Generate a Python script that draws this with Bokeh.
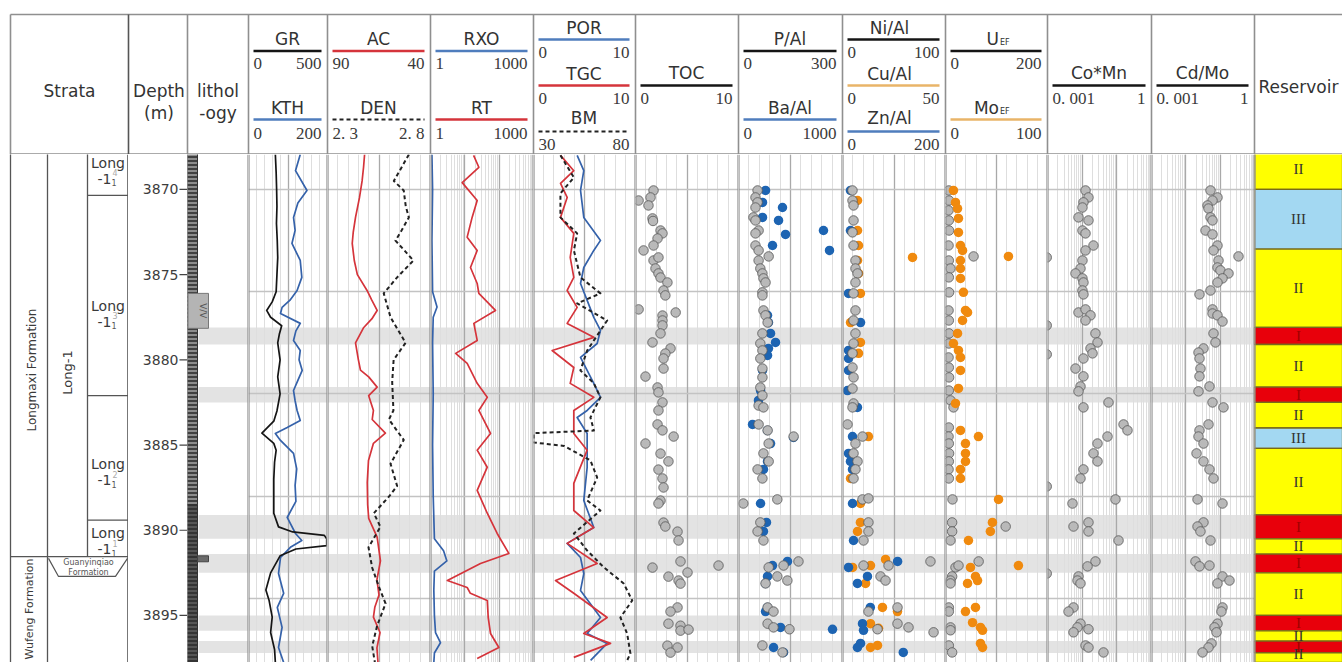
import numpy as np
from bokeh.plotting import figure
from bokeh.models import Range1d, FixedTicker, LogTicker, Span
from bokeh.layouts import row, column
from bokeh.embed import file_html
from bokeh.resources import INLINE
from bokeh.core.properties import value

# ---------------------------------------------------------------- data
DEPTH_TOP, DEPTH_BOT = 3867.95, 3897.76
DEPTH_TICKS = [3870, 3875, 3880, 3885, 3890, 3895]

GR_RANGE, KTH_RANGE = (0, 500), (0, 200)
AC_RANGE, DEN_RANGE = (90, 40), (2.3, 2.8)
RXO_RANGE, RT_RANGE = (1, 1000), (1, 1000)
POR_RANGE, TGC_RANGE, BM_RANGE = (0, 10), (0, 10), (30, 80)
TOC_RANGE = (0, 10)
PAL_RANGE, BAAL_RANGE = (0, 300), (0, 1000)
NIAL_RANGE, CUAL_RANGE, ZNAL_RANGE = (0, 100), (0, 50), (0, 200)
UEF_RANGE, MOEF_RANGE = (0, 200), (0, 100)
COMN_RANGE, CDMO_RANGE = (0.001, 1), (0.001, 1)

GR_TICKS, KTH_TICKS = ["0", "500"], ["0", "200"]
AC_TICKS, DEN_TICKS = ["90", "40"], ["2. 3", "2. 8"]
RXO_TICKS, RT_TICKS = ["1", "1000"], ["1", "1000"]
POR_TICKS, TGC_TICKS, BM_TICKS = ["0", "10"], ["0", "10"], ["30", "80"]
TOC_TICKS = ["0", "10"]
PAL_TICKS, BAAL_TICKS = ["0", "300"], ["0", "1000"]
NIAL_TICKS, CUAL_TICKS, ZNAL_TICKS = ["0", "100"], ["0", "50"], ["0", "200"]
UEF_TICKS, MOEF_TICKS = ["0", "200"], ["0", "100"]
COMN_TICKS, CDMO_TICKS = ["0. 001", "1"], ["0. 001", "1"]

gr_depth = [3867.95, 3869.0, 3870.0, 3871.0, 3872.0, 3873.0, 3874.0, 3875.0, 3876.0, 3876.6, 3877.1, 3877.5, 3878.0, 3878.5, 3879.0, 3880.0, 3881.0, 3882.0, 3883.0, 3883.6, 3884.3, 3884.9, 3885.3, 3886.0, 3887.0, 3888.0, 3889.0, 3889.8, 3890.1, 3890.3, 3890.5, 3890.9, 3891.1, 3891.5, 3892.5, 3893.5, 3894.1, 3895.1, 3896.0, 3897.0, 3897.76]
gr = [170, 175, 178, 180, 177, 182, 185, 180, 175, 150, 115, 140, 210, 195, 185, 200, 185, 200, 180, 160, 85, 160, 175, 165, 160, 160, 160, 190, 280, 480, 495, 495, 300, 200, 140, 110, 130, 150, 140, 165, 170]

kth_depth = [3867.95, 3868.9, 3870.06, 3870.8, 3871.64, 3872.4, 3873.17, 3874.17, 3875.16, 3875.93, 3876.5, 3876.92, 3877.28, 3877.86, 3878.3, 3878.86, 3879.45, 3880.0, 3880.62, 3881.2, 3881.8, 3882.4, 3882.97, 3883.56, 3883.97, 3884.32, 3884.73, 3885.49, 3886.4, 3887.37, 3888.3, 3889.25, 3890.19, 3890.6, 3891.0, 3891.6, 3892.54, 3893.7, 3894.53, 3895.7, 3896.88, 3897.76]
kth = [131, 119, 148, 125, 114, 118, 110, 131, 135, 123, 105, 85, 81, 131, 120, 114, 131, 128, 136, 125, 114, 118, 123, 131, 98, 68, 81, 114, 122, 118, 120, 98, 119, 135, 106, 81, 76, 89, 73, 85, 76, 89]

ac_depth = [3867.95, 3868.7, 3869.5, 3870.5, 3871.64, 3872.5, 3873.17, 3874.17, 3875.0, 3875.93, 3876.5, 3877.1, 3877.6, 3878.1, 3879.0, 3880.0, 3880.6, 3881.0, 3881.6, 3882.1, 3882.97, 3883.5, 3884.3, 3884.9, 3885.9, 3887.2, 3888.5, 3889.3, 3890.4, 3891.8, 3892.9, 3893.8, 3894.5, 3895.1, 3896.0, 3896.9, 3897.76]
ac = [72.0, 72.5, 73.2, 74.5, 76.4, 77.5, 78.0, 77.0, 75.5, 70.8, 68.5, 65.9, 68.5, 72.4, 76.4, 75.0, 74.0, 70.0, 65.9, 70.0, 67.7, 68.3, 61.9, 67.7, 70.1, 70.7, 70.5, 70.0, 65.9, 64.3, 66.0, 65.0, 67.0, 67.7, 64.5, 66.0, 65.5]

den_depth = [3867.95, 3868.7, 3869.5, 3870.06, 3871.0, 3871.64, 3872.4, 3873.0, 3874.17, 3875.16, 3876.1, 3877.5, 3879.0, 3880.0, 3881.3, 3882.97, 3883.5, 3884.7, 3886.1, 3887.4, 3888.0, 3889.0, 3889.8, 3891.0, 3892.2, 3893.3, 3894.3, 3895.6, 3896.8, 3897.76]
den = [2.695, 2.66, 2.622, 2.670, 2.68, 2.695, 2.66, 2.630, 2.717, 2.638, 2.573, 2.606, 2.679, 2.621, 2.614, 2.62, 2.598, 2.670, 2.606, 2.638, 2.60, 2.525, 2.557, 2.499, 2.517, 2.549, 2.582, 2.541, 2.517, 2.53]

rxo_depth = [3867.95, 3870.0, 3873.0, 3876.0, 3876.9, 3877.5, 3879.0, 3882.0, 3885.0, 3888.0, 3890.5, 3891.2, 3891.8, 3892.4, 3893.5, 3895.0, 3896.0, 3896.6, 3897.2, 3897.76]
rxo = [1.1, 1.15, 1.1, 1.15, 1.55, 1.2, 1.15, 1.2, 1.15, 1.2, 1.3, 2.4, 3.0, 1.3, 1.25, 1.3, 1.4, 1.95, 1.3, 1.25]

rt_depth = [3868.0, 3868.7, 3869.6, 3870.65, 3871.64, 3872.8, 3873.58, 3874.58, 3875.52, 3876.1, 3877.1, 3877.86, 3878.86, 3879.62, 3880.21, 3881.38, 3882.2, 3882.97, 3884.32, 3885.3, 3886.3, 3887.66, 3889.0, 3890.19, 3891.36, 3891.95, 3892.95, 3893.36, 3893.7, 3894.12, 3895.12, 3896.06, 3896.88, 3897.52]
rt = [18, 25.6, 8.4, 22.9, 16.3, 11.7, 22.9, 14.6, 22.9, 25.6, 78, 18.3, 22.9, 5.4, 11.7, 22.9, 45, 25.6, 56, 22.9, 45, 22.9, 45, 87.5, 191, 28.6, 3.1, 11.7, 14.5, 45, 48, 56, 98, 22.9]

por_depth = [3868.0, 3868.9, 3870.06, 3871.64, 3872.99, 3873.58, 3874.58, 3875.52, 3876.51, 3877.51, 3878.27, 3879.04, 3879.86, 3880.62, 3881.38, 3882.2, 3882.97, 3883.38, 3884.32, 3886.31, 3888.25, 3889.84, 3890.77, 3891.6, 3892.54, 3893.53, 3895.12, 3896.06, 3896.64, 3897.64]
por = [4.28, 4.93, 4.61, 4.93, 6.57, 5.91, 4.93, 4.61, 5.26, 5.91, 6.57, 6.24, 4.61, 5.26, 5.91, 6.57, 5.26, 4.28, 5.26, 5.26, 4.93, 5.91, 3.30, 4.61, 4.93, 4.61, 6.57, 5.26, 7.22, 5.6]

tgc_depth = [3868.0, 3868.9, 3869.65, 3870.47, 3871.64, 3872.58, 3873.99, 3875.16, 3875.93, 3876.92, 3877.86, 3878.68, 3879.45, 3880.45, 3881.38, 3882.2, 3882.97, 3884.32, 3885.3, 3887.25, 3888.84, 3889.84, 3890.77, 3891.95, 3892.95, 3893.7, 3895.12, 3896.06, 3896.64, 3897.46]
tgc = [2.65, 3.95, 2.65, 3.30, 2.65, 3.95, 3.6, 3.95, 3.3, 4.28, 3.3, 5.91, 1.83, 3.95, 3.6, 5.91, 3.95, 3.95, 5.26, 3.95, 3.95, 5.91, 3.30, 6.24, 2.16, 3.95, 7.22, 4.93, 7.55, 3.95]

bm_depth = [3868.0, 3869.3, 3870.23, 3871.64, 3872.58, 3873.58, 3875.16, 3876.1, 3876.69, 3877.69, 3878.86, 3879.45, 3880.62, 3881.38, 3882.2, 3883.38, 3884.15, 3884.3, 3884.85, 3885.05, 3885.9, 3886.9, 3888.25, 3888.84, 3890.19, 3891.19, 3892.18, 3893.12, 3894.12, 3895.12, 3896.06, 3897.23, 3897.64]
bm = [43.2, 49.8, 43.2, 43.2, 51.4, 49.8, 53.0, 62.8, 51.4, 66.1, 59.6, 56.3, 53.0, 59.6, 62.8, 57.9, 59.6, 30.2, 30.2, 45.0, 57.9, 61.2, 56.3, 62.8, 49.8, 56.3, 64.5, 74.2, 78.4, 72.6, 75.9, 77.5, 75.9]

toc_depth = [3870.06, 3870.65, 3870.47, 3870.94, 3871.7, 3871.85, 3872.41, 3872.58, 3872.88, 3873.29, 3873.58, 3874.17, 3873.99, 3874.64, 3874.93, 3875.17, 3875.46, 3875.93, 3876.22, 3877.04, 3877.4, 3877.22, 3877.69, 3877.98, 3878.45, 3878.98, 3879.33, 3879.63, 3879.92, 3880.51, 3880.98, 3881.62, 3881.91, 3882.5, 3882.97, 3883.79, 3884.14, 3884.5, 3884.91, 3885.5, 3885.96, 3886.44, 3886.96, 3887.49, 3888.26, 3888.43, 3889.55, 3889.78, 3890.08, 3890.6, 3891.83, 3892.19, 3892.07, 3892.48, 3892.72, 3892.95, 3893.13, 3894.53, 3894.77, 3895.48, 3895.6, 3895.89, 3895.83, 3896.77, 3896.88, 3897.18]
toc = [1.75, 0.3, 1.46, 1.26, 1.65, 1.7, 2.43, 2.62, 2.14, 1.75, 0.78, 1.75, 2.23, 1.94, 2.23, 2.43, 3.1, 2.72, 2.9, 0.3, 2.62, 3.9, 2.62, 2.62, 2.43, 1.65, 3.4, 2.9, 2.72, 2.72, 0.97, 2.14, 2.23, 2.62, 2.23, 2.14, 2.62, 3.7, 0.97, 2.43, 3.2, 2.23, 2.62, 2.72, 2.43, 2.23, 2.72, 2.9, 4.08, 4.18, 4.37, 1.65, 8.06, 5.05, 3.2, 4.18, 4.37, 4.08, 3.4, 3.2, 4.37, 4.37, 5.15, 3.1, 4.08, 3.4]

pal_depth = [3870.06, 3870.47, 3870.76, 3871.06, 3871.64, 3871.82, 3872.41, 3872.58, 3873.29, 3873.58, 3873.93, 3874.17, 3874.64, 3874.93, 3875.22, 3875.46, 3876.04, 3876.22, 3877.1, 3877.39, 3877.81, 3878.45, 3879.04, 3879.45, 3879.92, 3880.51, 3881.03, 3881.62, 3882.09, 3882.68, 3882.79, 3883.79, 3884.14, 3884.5, 3884.91, 3885.49, 3885.96, 3886.43, 3886.96, 3888.43, 3888.19, 3889.54, 3890.07, 3890.6, 3892.18, 3892.07, 3891.83, 3892.71, 3893.12, 3892.95, 3894.53, 3894.77, 3895.48, 3895.7, 3895.81, 3896.76, 3897.17]
pal = [55, 49, 55, 49, 43, 49, 58, 49, 49, 58, 87, 58, 63, 69, 72, 78, 69, 69, 72, 78, 84, 69, 63, 69, 63, 69, 69, 63, 69, 58, 72, 58, 84, 159, 87, 72, 87, 55, 69, 14, 112, 63, 55, 72, 87, 130, 173, 112, 78, 141, 84, 101, 84, 101, 147, 69, 127]

baal_depth = [3870.06, 3870.76, 3871.06, 3871.64, 3871.82, 3872.64, 3872.41, 3873.29, 3873.58, 3877.39, 3877.81, 3878.45, 3878.98, 3879.33, 3879.74, 3880.62, 3881.8, 3882.38, 3883.79, 3884.14, 3884.55, 3884.91, 3885.96, 3886.43, 3888.43, 3889.54, 3890.07, 3891.83, 3892.07, 3892.71, 3893.12, 3894.53, 3894.77, 3895.7, 3895.81, 3896.88, 3897.17]
baal = [260, 231, 423, 231, 385, 452, 817, 327, 875, 279, 288, 308, 356, 288, 279, 231, 212, 192, 135, 279, 529, 308, 279, 240, 212, 269, 240, 471, 327, 279, 260, 279, 260, 404, 904, 337, 433]

nial_depth = [3870.06, 3870.65, 3870.94, 3871.82, 3872.52, 3873.29, 3874.17, 3874.64, 3874.93, 3875.46, 3876.1, 3877.1, 3877.69, 3878.45, 3879.04, 3879.62, 3880.45, 3881.03, 3881.68, 3882.56, 3882.79, 3883.79, 3884.5, 3884.91, 3885.49, 3885.96, 3886.43, 3886.96, 3888.19, 3888.13, 3889.54, 3890.07, 3890.6, 3892.07, 3892.07, 3891.83, 3892.71, 3892.95, 3894.53, 3894.77, 3895.48, 3895.7, 3895.81, 3895.99]
nial = [9.7, 9.7, 10.7, 10.7, 9.7, 10.7, 12.6, 12.6, 14.6, 12.6, 10.7, 12.6, 10.7, 12.6, 10.7, 9.7, 9.7, 10.7, 9.7, 10.7, 9.7, 4.9, 19.4, 12.6, 10.7, 14.6, 12.6, 10.7, 19.4, 25.2, 25.2, 25.2, 20.4, 20.4, 44.7, 85.4, 36.9, 41.8, 53.4, 25.2, 53.4, 64.1, 34.0, 88.4]

cual_depth = [3870.65, 3872.41, 3873.29, 3874.17, 3874.93, 3876.1, 3877.81, 3878.98, 3879.62, 3873.99, 3884.5, 3886.96, 3888.43, 3889.54, 3890.07, 3892.18, 3892.07, 3891.71, 3893.12, 3894.53, 3894.77, 3895.48, 3895.75, 3896.88, 3896.76]
cual = [7.3, 7.3, 7.8, 7.3, 7.8, 8.7, 3.9, 8.7, 7.8, 34, 12.6, 3.9, 8.7, 8.7, 7.3, 4.9, 13.6, 20.9, 11.2, 19.4, 26.7, 13.6, 17.5, 13.6, 17.0]

znal_depth = [3870.06, 3872.41, 3876.1, 3877.81, 3879.45, 3879.92, 3880.62, 3881.8, 3882.79, 3884.5, 3885.49, 3885.96, 3886.43, 3888.43, 3890.6, 3892.18, 3891.83, 3892.71, 3893.12, 3894.53, 3895.48, 3895.87, 3896.64, 3896.88, 3897.17]
znal = [15.5, 15.5, 11.7, 35, 11.7, 11.7, 11.7, 9.7, 29, 19.4, 11.7, 15.5, 19.4, 19.4, 21.4, 11.7, 107, 48.5, 29, 54, 38.8, 40.8, 35, 29, 118]

uef_depth = [3870.06, 3870.65, 3871.23, 3871.82, 3872.41, 3873.29, 3874.17, 3874.64, 3875.16, 3876.04, 3877.1, 3877.69, 3878.45, 3879.04, 3879.86, 3880.45, 3881.03, 3881.8, 3882.38, 3873.93, 3882.79, 3883.97, 3884.5, 3884.91, 3885.49, 3885.96, 3886.43, 3886.96, 3888.19, 3889.54, 3890.07, 3890.6, 3892.18, 3892.07, 3892.71, 3892.95, 3893.12, 3894.53, 3894.77, 3895.7, 3895.87, 3896.76, 3897.17, 3889.78, 3891.83]
uef = [6.5, 7.0, 6.0, 6.5, 7.0, 6.0, 6.5, 9.8, 6.5, 7.0, 6.0, 6.5, 7.0, 6.5, 6.0, 6.5, 7.0, 6.5, 9.8, 55, 15.7, 6.5, 6.0, 6.5, 7.0, 6.5, 6.0, 6.5, 13.7, 13, 13, 9.8, 19.6, 25.5, 13, 9.8, 9.8, 6.5, 6.5, 9.8, 9.8, 6.5, 13, 118, 65]

moef_depth = [3870.06, 3870.76, 3871.12, 3871.70, 3872.52, 3873.29, 3873.58, 3874.17, 3874.64, 3875.22, 3876.04, 3877.1, 3877.22, 3877.69, 3878.45, 3879.04, 3879.45, 3879.86, 3880.62, 3881.68, 3882.56, 3873.93, 3884.14, 3884.5, 3884.91, 3885.49, 3885.96, 3886.43, 3886.96, 3888.19, 3889.54, 3890.07, 3890.6, 3892.07, 3892.18, 3892.71, 3892.95, 3893.12, 3894.53, 3894.77, 3895.42, 3895.7, 3895.87, 3896.64, 3896.88]
moef = [7.8, 9.8, 11.8, 12.7, 12.7, 14.7, 16.7, 14.7, 14.7, 14.7, 17.6, 19.6, 21.6, 16.7, 11.8, 7.8, 12.7, 14.7, 14.7, 12.7, 9.8, 61.7, 14.7, 32.3, 19.6, 19.6, 19.6, 14.7, 14.7, 52, 46, 44, 22.5, 71.5, 24.5, 29.4, 31.4, 21.6, 29.4, 19.6, 26.5, 34.3, 36.3, 34.3, 36.3]

comn_depth = [3870.06, 3870.47, 3870.76, 3871.06, 3871.64, 3871.82, 3872.41, 3872.58, 3873.29, 3873.58, 3874.17, 3874.64, 3874.93, 3875.22, 3875.46, 3875.93, 3876.16, 3877.22, 3877.04, 3877.39, 3877.69, 3878.45, 3878.98, 3879.33, 3879.62, 3879.92, 3880.51, 3880.97, 3881.56, 3881.85, 3882.5, 3882.79, 3873.99, 3877.98, 3879.68, 3883.79, 3884.14, 3884.5, 3884.91, 3885.49, 3885.96, 3886.43, 3886.96, 3887.43, 3888.43, 3888.19, 3889.78, 3889.54, 3890.07, 3890.6, 3892.54, 3891.83, 3892.12, 3892.71, 3892.95, 3893.12, 3894.53, 3894.77, 3895.48, 3895.7, 3895.99, 3895.81, 3896.76, 3896.88, 3897.17]
comn = [0.0125, 0.0152, 0.0109, 0.0102, 0.00784, 0.0152, 0.0102, 0.0125, 0.0212, 0.0125, 0.0102, 0.00895, 0.00642, 0.0102, 0.0109, 0.0102, 0.0109, 0.00784, 0.0125, 0.0174, 0.0125, 0.0242, 0.0277, 0.0174, 0.0199, 0.0109, 0.00642, 0.0109, 0.00895, 0.00784, 0.0575, 0.0109, 0.00095, 0.00095, 0.00095, 0.156, 0.203, 0.0538, 0.0277, 0.0212, 0.0277, 0.0109, 0.00895, 0.00095, 0.00526, 0.0914, 0.00562, 0.0152, 0.0152, 0.112, 0.00095, 0.0242, 0.0143, 0.00784, 0.00733, 0.00895, 0.00562, 0.00404, 0.00895, 0.00733, 0.00562, 0.0152, 0.0125, 0.0152, 0.0412]

cdmo_depth = [3870.06, 3870.47, 3870.65, 3870.94, 3871.12, 3871.64, 3871.82, 3872.41, 3872.64, 3873.29, 3873.58, 3873.93, 3874.17, 3874.58, 3874.75, 3874.93, 3875.22, 3875.46, 3875.93, 3876.16, 3877.04, 3877.28, 3877.39, 3877.75, 3878.45, 3878.98, 3879.33, 3879.57, 3879.92, 3880.51, 3880.97, 3881.56, 3881.85, 3882.5, 3882.79, 3883.79, 3884.14, 3884.5, 3884.91, 3885.49, 3885.96, 3886.43, 3886.96, 3888.19, 3888.43, 3889.54, 3889.78, 3890.07, 3890.6, 3891.83, 3892.12, 3892.07, 3892.71, 3892.95, 3893.12, 3894.53, 3894.77, 3895.48, 3895.7, 3895.99, 3896.64, 3896.88, 3897.17]
cdmo = [0.0523, 0.0836, 0.0598, 0.0428, 0.0457, 0.0523, 0.0598, 0.0374, 0.0598, 0.0836, 0.0640, 0.342, 0.0895, 0.0836, 0.102, 0.175, 0.117, 0.0836, 0.0523, 0.0250, 0.0598, 0.0598, 0.0836, 0.117, 0.0640, 0.0731, 0.0327, 0.0234, 0.0250, 0.0267, 0.0250, 0.0489, 0.0234, 0.0598, 0.125, 0.0457, 0.0250, 0.0234, 0.0327, 0.0205, 0.0327, 0.0489, 0.0640, 0.0219, 0.117, 0.0327, 0.0219, 0.0267, 0.0523, 0.0191, 0.0250, 0.0489, 0.117, 0.187, 0.0836, 0.117, 0.109, 0.0836, 0.0684, 0.0782, 0.0560, 0.0457, 0.0306]

RES_TOP = [3867.6, 3870.0, 3873.5, 3878.1, 3879.1, 3881.6, 3882.5, 3884.0, 3885.2, 3889.1, 3890.5, 3891.4, 3892.5, 3895.0, 3895.9, 3896.5, 3897.2]
RES_BOT = [3870.0, 3873.5, 3878.1, 3879.1, 3881.6, 3882.5, 3884.0, 3885.2, 3889.1, 3890.5, 3891.4, 3892.5, 3895.0, 3895.9, 3896.5, 3897.2, 3897.76]
RES_CLASS = ["II", "III", "II", "I", "II", "I", "II", "III", "II", "I", "II", "I", "II", "I", "II", "I", "II"]

FORMATIONS = ["Longmaxi Formation", "Wufeng Formation"]
FORMATION_TOP = [3860.0, 3891.55]
FORMATION_LABEL_DEPTH = [3880.6, 3894.62]
MEMBER = "Long-1"
MEMBER_LABEL_DEPTH = 3880.74
SUBLAYER_SUP = ["4", "3", "2", "1"]
SUBLAYER_TOP = [3860.0, 3870.35, 3882.1, 3889.4]
SUBLAYER_BOT = [3870.35, 3882.1, 3889.4, 3891.55]
SUBLAYER_LABEL_DEPTH = [3868.9, 3877.3, 3886.6, 3890.65]
GUANYINQIAO = ["Guanyinqiao", "Formation"]
GUANYINQIAO_TOP, GUANYINQIAO_BOT = 3891.55, 3892.71

LITHO_TOP = [3860.0, 3888.5]
LITHO_BOT = [3888.5, 3900.0]
LITHO_TYPE = ["silty shale", "shale"]
MARK_TOP, MARK_BOT = [3876.1, 3891.5], [3878.15, 3891.85]

# ---------------------------------------------------------------- style
SANS, SERIF = "DejaVu Sans", "Liberation Serif"
TXT = "#333333"
FRAME = "#8f8f8f"
BLACK, RED, BLUE, ORANGE = "#151515", "#d5343b", "#3562aa", "#e8a33c"
P_GRAY, P_BLUE, P_ORANGE = "#b9b9b9", "#1d64b2", "#f08a0e"
H_BODY = 508
W = [128, 59, 61, 79, 103, 103, 102, 103, 104, 103, 102, 104, 103, 88]
EDGES = list(np.cumsum([0] + W))

yr = Range1d(start=DEPTH_BOT, end=DEPTH_TOP)


def body_fig(width, x_range, x_axis_type="linear"):
    p = figure(width=width, height=H_BODY, x_range=x_range, y_range=yr,
               x_axis_type=x_axis_type, x_axis_location=None, y_axis_location=None,
               toolbar_location=None, output_backend="svg", min_border=0,
               outline_line_color=None, background_fill_color="white",
               border_fill_color="white")
    p.min_border_left = p.min_border_right = p.min_border_top = p.min_border_bottom = 0
    return p


band_top = [t for t, c in zip(RES_TOP, RES_CLASS) if c == "I"]
band_bot = [b for b, c in zip(RES_BOT, RES_CLASS) if c == "I"]


def track(width, rng, log=False):
    p = body_fig(width, Range1d(*rng), "log" if log else "linear")
    if log:
        p.xgrid.ticker = LogTicker(num_minor_ticks=10)
    else:
        a, b = rng
        mn = list(np.linspace(a, b, 11))[1:-1]
        p.xgrid.ticker = FixedTicker(ticks=[(a + b) / 2.0], minor_ticks=mn)
    p.xgrid.grid_line_color = "#a9a9a9"
    p.xgrid.grid_line_width = 1.3
    p.xgrid.minor_grid_line_color = "#dedede"
    p.xgrid.minor_grid_line_width = 1
    p.ygrid.ticker = FixedTicker(ticks=[3864, 3870, 3876, 3882, 3888, 3894])
    p.ygrid.grid_line_color = "#c3c3c3"
    p.ygrid.grid_line_width = 1.5
    p.quad(left=rng[0], right=rng[1], top=band_top, bottom=band_bot,
           fill_color="#e3e3e3", line_color=None, level="image")
    for loc in rng:
        p.add_layout(Span(location=loc, dimension="height", line_color=FRAME, line_width=2.2))
    return p


def curve(p, x, y, color, dash="solid", rn="default", w=1.7):
    p.line(x=x, y=y, line_color=color, line_width=w, line_dash=dash,
           line_join="round", x_range_name=rn)


def dots(p, x, y, kind, rn="default"):
    if kind == "gray":
        p.scatter(x=x, y=y, size=9.5, marker="circle", fill_color=P_GRAY,
                  line_color="#555555", line_width=0.8, x_range_name=rn)
    else:
        p.scatter(x=x, y=y, size=9.5, marker="circle",
                  fill_color=P_BLUE if kind == "blue" else P_ORANGE,
                  line_color=None, x_range_name=rn)


def txt(p, x, y, s, size, align="center", font=SANS, color=TXT, angle=0.0, baseline="middle"):
    p.text(x=x if isinstance(x, list) else [x], y=y if isinstance(y, list) else [y],
           text=s if isinstance(s, list) else [s], text_font=value(font),
           text_font_size=f"{size}px", text_align=align, text_baseline=baseline,
           text_color=color, angle=angle)


# ---------------------------------------------------------------- strata
st = body_fig(W[0], Range1d(0, W[0]))
st.xgrid.visible = st.ygrid.visible = False
LN = "#555555"
st.segment(x0=[10, 47], y0=[DEPTH_TOP - 1] * 2, x1=[10, 47], y1=[DEPTH_BOT + 1] * 2,
           line_color=LN, line_width=1.3)
st.segment(x0=[87], y0=[DEPTH_TOP - 1], x1=[87], y1=[FORMATION_TOP[1]], line_color=LN, line_width=1.3)
st.segment(x0=[87] * 3, y0=SUBLAYER_BOT[:-1], x1=[128] * 3, y1=SUBLAYER_BOT[:-1],
           line_color=LN, line_width=1.3)
st.segment(x0=[10], y0=[FORMATION_TOP[1]], x1=[128], y1=[FORMATION_TOP[1]], line_color=LN, line_width=1.3)
st.add_layout(Span(location=W[0], dimension="height", line_color="#555555", line_width=2.6))
txt(st, 31, FORMATION_LABEL_DEPTH[0], FORMATIONS[0], 12, angle=np.pi / 2, color="#3a3a3a")
txt(st, 29, FORMATION_LABEL_DEPTH[1], FORMATIONS[1], 11, angle=np.pi / 2, color="#3a3a3a")
txt(st, 67, MEMBER_LABEL_DEPTH, MEMBER, 13, angle=np.pi / 2, color="#3a3a3a")
px = 1.0 / 17.04
for d, sup in zip(SUBLAYER_LABEL_DEPTH, SUBLAYER_SUP):
    txt(st, 107.5, d - 8 * px, "Long", 14, color="#3a3a3a")
    txt(st, 104, d + 8 * px, "-1", 14, color="#3a3a3a")
    txt(st, 111, d + 12 * px, "1", 8, align="left", color="#555555")
    txt(st, 112, d + 2 * px, sup, 8, align="left", color="#aaaaaa")
st.line(x=[48, 58, 115, 127], y=[GUANYINQIAO_TOP + 0.1, GUANYINQIAO_BOT, GUANYINQIAO_BOT, GUANYINQIAO_TOP + 0.1],
        line_color=LN, line_width=1.2)
txt(st, 88, GUANYINQIAO_TOP + 6 * px, GUANYINQIAO[0], 8, color="#555555")
txt(st, 88, GUANYINQIAO_TOP + 16 * px, GUANYINQIAO[1], 8, color="#555555")

# ---------------------------------------------------------------- depth
dp = body_fig(W[1], Range1d(0, W[1]))
dp.xgrid.visible = dp.ygrid.visible = False
dp.segment(x0=[51] * len(DEPTH_TICKS), y0=DEPTH_TICKS, x1=[W[1]] * len(DEPTH_TICKS), y1=DEPTH_TICKS,
           line_color="#444444", line_width=1.2)
txt(dp, [50] * len(DEPTH_TICKS), DEPTH_TICKS, [str(v) for v in DEPTH_TICKS], 14, align="right", color="#3d3d3d")

# ---------------------------------------------------------------- lithology
li = body_fig(W[2], Range1d(0, W[2]))
li.xgrid.visible = li.ygrid.visible = False
li.quad(left=11, right=W[2], top=band_top, bottom=band_bot, fill_color="#e3e3e3", line_color=None)
lith_fill = {"silty shale": "#8c8c8c", "shale": "#555555"}
for t, b, k in zip(LITHO_TOP, LITHO_BOT, LITHO_TYPE):
    li.quad(left=0, right=10, top=t, bottom=b, fill_color=lith_fill[k], line_color="#333333",
            line_width=1, hatch_pattern="horizontal_line", hatch_color="#2b2b2b",
            hatch_scale=4, hatch_weight=1.6)
li.quad(left=[0.5], right=[21], top=[MARK_TOP[0]], bottom=[MARK_BOT[0]], fill_color="#b4b4b4",
        line_color="#777777", line_width=1)
txt(li, 15.5, (MARK_TOP[0] + MARK_BOT[0]) / 2, "V/V", 9, angle=-np.pi / 2, color="#555555")
li.quad(left=[10], right=[21], top=[MARK_TOP[1]], bottom=[MARK_BOT[1]], fill_color="#6b6b6b",
        line_color="#444444", line_width=1)
li.add_layout(Span(location=W[2], dimension="height", line_color=FRAME, line_width=2.2))

# ---------------------------------------------------------------- log tracks
p_gr = track(W[3], GR_RANGE)
p_gr.extra_x_ranges = {"kth": Range1d(*KTH_RANGE)}
curve(p_gr, kth, kth_depth, BLUE, rn="kth")
curve(p_gr, gr, gr_depth, BLACK)

p_ac = track(W[4], AC_RANGE)
p_ac.extra_x_ranges = {"den": Range1d(*DEN_RANGE)}
curve(p_ac, ac, ac_depth, RED)
curve(p_ac, den, den_depth, "#222222", dash="4 3", rn="den", w=2.0)

p_rt = track(W[5], RXO_RANGE, log=True)
curve(p_rt, rxo, rxo_depth, BLUE)
curve(p_rt, rt, rt_depth, RED)

p_por = track(W[6], POR_RANGE)
p_por.extra_x_ranges = {"bm": Range1d(*BM_RANGE)}
curve(p_por, por, por_depth, BLUE)
curve(p_por, tgc, tgc_depth, RED)
curve(p_por, bm, bm_depth, "#222222", dash="4 3", rn="bm", w=2.0)

p_toc = track(W[7], TOC_RANGE)
dots(p_toc, toc, toc_depth, "gray")

p_pal = track(W[8], PAL_RANGE)
p_pal.extra_x_ranges = {"ba": Range1d(*BAAL_RANGE)}
dots(p_pal, baal, baal_depth, "blue", rn="ba")
dots(p_pal, pal, pal_depth, "gray")

p_ni = track(W[9], NIAL_RANGE)
p_ni.extra_x_ranges = {"cu": Range1d(*CUAL_RANGE), "zn": Range1d(*ZNAL_RANGE)}
dots(p_ni, cual, cual_depth, "orange", rn="cu")
dots(p_ni, znal, znal_depth, "blue", rn="zn")
dots(p_ni, nial, nial_depth, "gray")

p_u = track(W[10], UEF_RANGE)
p_u.extra_x_ranges = {"mo": Range1d(*MOEF_RANGE)}
dots(p_u, uef, uef_depth, "gray")
dots(p_u, moef, moef_depth, "orange", rn="mo")

p_co = track(W[11], COMN_RANGE, log=True)
dots(p_co, comn, comn_depth, "gray")

p_cd = track(W[12], CDMO_RANGE, log=True)
dots(p_cd, cdmo, cdmo_depth, "gray")

# ---------------------------------------------------------------- reservoir
rs = body_fig(W[13], Range1d(0, W[13]))
rs.xgrid.visible = rs.ygrid.visible = False
res_fill = {"I": "#e8000b", "II": "#ffff00", "III": "#a3d8f2"}
res_txt = {"I": "#a00000", "II": "#333333", "III": "#333333"}
rs.quad(left=0, right=W[13], top=RES_TOP, bottom=RES_BOT,
        fill_color=[res_fill[c] for c in RES_CLASS], line_color="#77691a", line_width=1.3)
label_y = [min((t + b) / 2, DEPTH_BOT - 0.5) for t, b in zip(RES_TOP, RES_BOT)]
rs.text(x=[44] * len(RES_CLASS), y=label_y,
        text=RES_CLASS, text_font=value(SERIF), text_font_size="15px", text_align="center",
        text_baseline="middle", text_color=[res_txt[c] for c in RES_CLASS])
rs.add_layout(Span(location=0, dimension="height", line_color=FRAME, line_width=2.2))

# ---------------------------------------------------------------- header
hd = figure(width=1342, height=154, x_range=Range1d(0, 1342), y_range=Range1d(154, 0),
            x_axis_location=None, y_axis_location=None, toolbar_location=None,
            output_backend="svg", min_border=0, outline_line_color=None,
            background_fill_color="white", border_fill_color="white")
hd.min_border_left = hd.min_border_right = hd.min_border_top = hd.min_border_bottom = 0
hd.xgrid.visible = hd.ygrid.visible = False
hd.segment(x0=[10, 10, 10], y0=[14, 14, 153.5], x1=[1342, 10, 1342], y1=[14, 154, 153.5],
           line_color=FRAME, line_width=1.6)
inner = EDGES[1:-1]
hd.segment(x0=inner, y0=[14] * len(inner), x1=inner, y1=[154] * len(inner),
           line_color=[("#555555" if e == EDGES[1] else FRAME) for e in inner], line_width=1.6)

txt(hd, 69, 90, "Strata", 17)
txt(hd, (EDGES[1] + EDGES[2]) / 2 + 1, 90, "Depth", 17)
txt(hd, (EDGES[1] + EDGES[2]) / 2 + 1, 112, "(m)", 17)
txt(hd, (EDGES[2] + EDGES[3]) / 2, 90, "lithol", 17)
txt(hd, (EDGES[2] + EDGES[3]) / 2, 112, "-ogy", 17)
txt(hd, EDGES[13] + 4, 86, "Reservoir", 17, align="left")

ROWS = {1: [(72, 85, 98)],
        2: [(38, 50.5, 63), (107, 119, 133)],
        3: [(27, 39, 52), (73, 85, 98), (117, 131, 144)]}
BLUE_H, ORANGE_H = "#4f7dbd", "#e9b468"
HEADERS = [
    [("GR", None, BLACK, "solid", GR_TICKS), ("KTH", None, BLUE_H, "solid", KTH_TICKS)],
    [("AC", None, RED, "solid", AC_TICKS), ("DEN", None, "#222222", "4 3", DEN_TICKS)],
    [("RXO", None, BLUE_H, "solid", RXO_TICKS), ("RT", None, RED, "solid", RT_TICKS)],
    [("POR", None, BLUE_H, "solid", POR_TICKS), ("TGC", None, RED, "solid", TGC_TICKS),
     ("BM", None, "#222222", "4 3", BM_TICKS)],
    [("TOC", None, BLACK, "solid", TOC_TICKS)],
    [("P/Al", None, BLACK, "solid", PAL_TICKS), ("Ba/Al", None, BLUE_H, "solid", BAAL_TICKS)],
    [("Ni/Al", None, BLACK, "solid", NIAL_TICKS), ("Cu/Al", None, ORANGE_H, "solid", CUAL_TICKS),
     ("Zn/Al", None, BLUE_H, "solid", ZNAL_TICKS)],
    [("U", "EF", BLACK, "solid", UEF_TICKS), ("Mo", "EF", ORANGE_H, "solid", MOEF_TICKS)],
    [("Co*Mn", None, BLACK, "solid", COMN_TICKS)],
    [("Cd/Mo", None, BLACK, "solid", CDMO_TICKS)],
]
for i, entries in enumerate(HEADERS):
    left, right = EDGES[3 + i], EDGES[4 + i]
    l0, r0 = left + 5, right - 6
    cx = (l0 + r0) / 2
    rows = ROWS[len(entries)]
    for (name, sub, col, dash, ticks), (yl, yline, ynum) in zip(entries, rows):
        if sub:
            txt(hd, cx + 3, yl, name, 17, align="right")
            txt(hd, cx + 4, yl + 4, sub, 8, align="left")
        else:
            txt(hd, cx - (4 if name in ("Ni/Al", "Cu/Al", "Zn/Al") else 0), yl, name, 17)
        hd.line(x=[l0, r0], y=[yline, yline], line_color=col, line_width=2.0 if dash != "solid" else 2.6,
                line_dash=dash)
        txt(hd, l0, ynum, ticks[0], 17, align="left", font=SERIF, color="#3a3a3a")
        txt(hd, r0, ynum, ticks[1], 17, align="right", font=SERIF, color="#3a3a3a")

body = row(st, dp, li, p_gr, p_ac, p_rt, p_por, p_toc, p_pal, p_ni, p_u, p_co, p_cd, rs)
layout = column(hd, body)
open("out.html", "w").write(file_html(layout, INLINE))
